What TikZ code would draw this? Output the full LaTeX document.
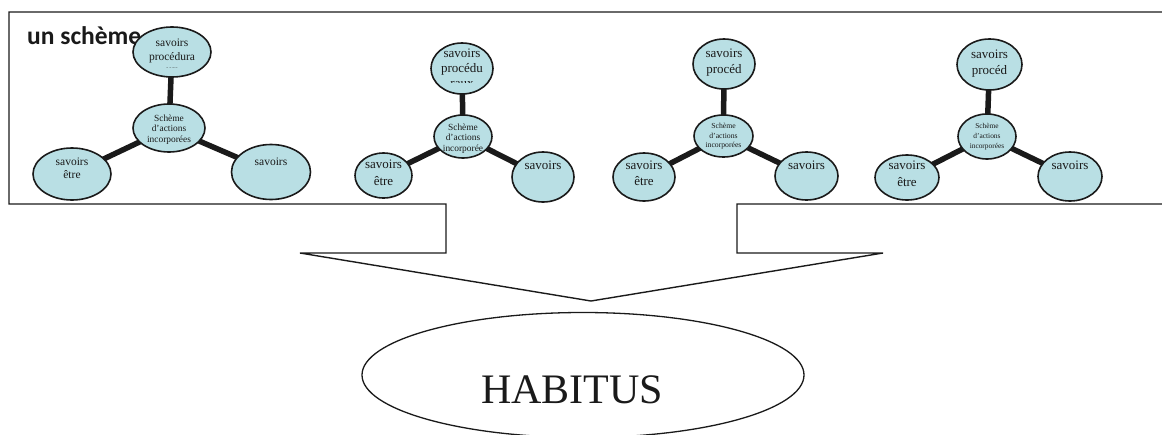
\documentclass[tikz,border=0pt]{standalone}
\usepackage{fontspec}
\setmainfont{Liberation Serif}
\newfontfamily\calib{Carlito}
\usetikzlibrary{shapes.geometric,backgrounds}
\definecolor{blobfill}{HTML}{B9DFE4}
\definecolor{ink}{HTML}{1A1A1A}
\tikzset{
  blob/.style={ellipse, draw=ink, line width=1.6pt, fill=blobfill, inner sep=0pt},
  conn/.style={line width=5.5pt, draw=ink},
  outline/.style={draw=ink, line width=1.4pt},
}
% #9: distance below the centre where the text is cut off
\newcommand\myblob[9]{%
  \node[blob, minimum width=#4pt, minimum height=#5pt,
    path picture={\clip ([yshift=-#9pt]path picture bounding box.west) rectangle (path picture bounding box.north east);
      \node[shape=rectangle, draw=none, fill=none, align=center, font=#7, text=ink, inner sep=0pt]
      at ([yshift=#6pt]path picture bounding box.center) {#8};}] (#1) at (#2,#3) {};}
\newcommand\fa{\fontsize{11.5}{13.5}\selectfont}
\newcommand\fb{\fontsize{13}{16.5}\selectfont}
\newcommand\fbt{\fontsize{13}{15}\selectfont}
\newcommand\fca{\fontsize{9.4}{10.5}\selectfont}
\newcommand\fcc{\fontsize{7.7}{9.5}\selectfont}
\newcommand\fcd{\fontsize{7.4}{10}\selectfont}
\begin{document}
\begin{tikzpicture}[x=1pt,y=-1pt]
\clip (0,0) rectangle (1162,434);
% callout frame
\draw[outline] (9,12) -- (1175,12) -- (1175,204) -- (737,204) -- (737,253) -- (883,253)
  -- (591,301) -- (300,253) -- (446,253) -- (446,204) -- (9,204) -- cycle;
\node[font=\calib\bfseries\fontsize{25.5}{29}\selectfont, text=ink, anchor=base west, inner sep=0pt] (title) at (27,44) {un schème};
% group 1
\myblob{t1}{172}{52}{78}{50}{-4.5}{\fa}{savoirs\\procédura\\ux}{15}
\myblob{c1}{169}{128}{72}{48}{-1.5}{\fca}{Schème\\d’actions\\incorporées}{40}
\myblob{l1}{72}{174}{78}{52}{6}{\fa}{savoirs\\être}{40}
\myblob{r1}{271}{172}{79}{55}{10.5}{\fa}{savoirs}{40}
% group 2
\myblob{t2}{462}{68.5}{62}{51}{0.5}{\fbt}{savoirs\\procédu\\raux}{14}
\myblob{c2}{463}{136.5}{58}{43}{-2}{\fca}{Schème\\d’actions\\incorporée}{40}
\myblob{l2}{383.5}{175.5}{57}{45}{2.5}{\fb}{savoirs\\être}{40}
\myblob{r2}{543}{177}{62}{50}{11.5}{\fb}{savoirs}{40}
% group 3
\myblob{t3}{724}{64}{62}{50}{1.6}{\fb}{savoirs\\procéd}{40}
\myblob{c3}{723.5}{136}{59}{42}{-0.4}{\fcc}{Schème\\d’actions\\incorporées}{40}
\myblob{l3}{644}{177}{62}{48}{3.5}{\fb}{savoirs\\être}{40}
\myblob{r3}{806.5}{176}{63}{48}{10.5}{\fb}{savoirs}{40}
% group 4
\myblob{t4}{989.5}{64.5}{65}{51}{1.1}{\fb}{savoirs\\procéd}{40}
\myblob{c4}{987}{136.5}{58}{45}{-0.5}{\fcd}{Schème\\d’actions\\incorporées}{40}
\myblob{l4}{907}{177.5}{64}{45}{3.5}{\fb}{savoirs\\être}{40}
\myblob{r4}{1070}{176.5}{64}{49}{11}{\fb}{savoirs}{40}
\begin{pgfonlayer}{background}
\foreach \g in {1,2,3,4}{
  \draw[conn] (c\g.center) -- (t\g.center);
  \draw[conn] (c\g.center) -- (l\g.center);
  \draw[conn] (c\g.center) -- (r\g.center);
}
\end{pgfonlayer}
% habitus
\node[ellipse, draw=ink, line width=1.3pt, minimum width=442pt, minimum height=125pt, inner sep=0pt] (habitus) at (583,375) {};
\node[font=\fontsize{42}{48}\selectfont, text=ink, inner sep=0pt] (habtext) at (572,390) {HABITUS};
\end{tikzpicture}
\end{document}
